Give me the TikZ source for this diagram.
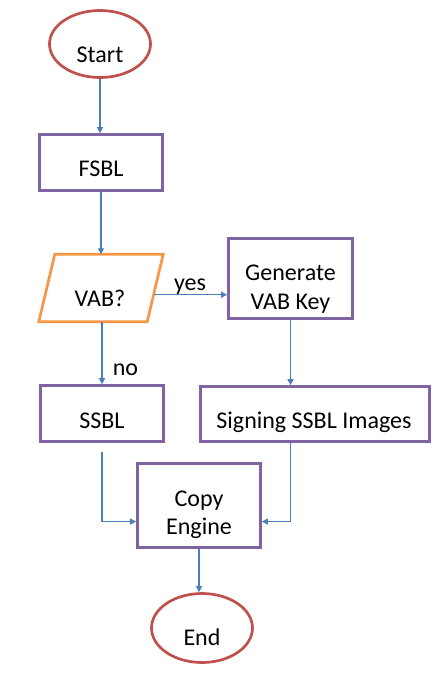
\documentclass[tikz,border=0pt]{standalone}
\usepackage{fontspec}
\setmainfont{Carlito}
\usetikzlibrary{shapes.geometric,arrows.meta,calc}
\definecolor{arrblue}{HTML}{4A7EBB}
\definecolor{boxpurple}{HTML}{8064A2}
\definecolor{termred}{HTML}{C0504D}
\definecolor{decorange}{HTML}{F79646}
\tikzset{
  procbox/.style={draw=boxpurple, line width=2.7pt, rectangle, inner sep=0pt},
  termin/.style={draw=termred, line width=2.7pt, ellipse, inner sep=0pt},
  decisframe/.style={rectangle, inner sep=0pt},
  decisline/.style={draw=decorange, line width=2.7pt, line join=miter},
  txt/.style={font=\fontsize{24}{28}\selectfont, inner sep=0pt, anchor=base, align=center},
  arr/.style={draw=arrblue, line width=1.3pt, -{Triangle[width=6pt,length=6pt]}}
}
\begin{document}
\begin{tikzpicture}[x=1pt,y=-1pt]
\useasboundingbox (0,0) rectangle (439,673);
% shapes
\node[termin, minimum width=101pt, minimum height=67pt] (start) at (100,44) {};
\node[procbox, minimum width=123pt, minimum height=56pt] (fsbl) at (101,162.5) {};
\node[decisframe, minimum width=124pt, minimum height=67pt] (vab) at (101,288) {};
\coordinate (vabTL) at ([xshift=16pt]vab.north west);
\coordinate (vabBR) at ([xshift=-16pt]vab.south east);
\draw[decisline] (vabTL) -- (vab.north east) -- (vabBR) -- (vab.south west) -- cycle;
\node[procbox, minimum width=124pt, minimum height=80pt] (gen) at (290.5,278.5) {};
\node[procbox, minimum width=123pt, minimum height=56pt] (ssbl) at (102,413.5) {};
\node[procbox, minimum width=229pt, minimum height=55pt] (sign) at (315,414) {};
\node[procbox, minimum width=123pt, minimum height=84pt] (copy) at (199,505.5) {};
\node[termin, minimum width=101pt, minimum height=69pt] (end) at (202,628) {};
% texts
\node[txt] (startT) at (100,62) {Start};
\node[txt] (fsblT) at (101,176.5) {FSBL};
\node[txt] (vabT) at (100,306) {VAB?};
\node[txt] (genT1) at (290.5,280) {Generate};
\node[txt] (genT2) at (290.5,309) {VAB Key};
\node[txt] (ssblT) at (102,428) {SSBL};
\node[txt] (signT) at (314,428.5) {Signing SSBL Images};
\node[txt] (copyT1) at (199,506) {Copy};
\node[txt] (copyT2) at (199,534) {Engine};
\node[txt] (endT) at (202,645.5) {End};
\node[txt] (yesL) at (190,290) {yes};
\node[txt] (noL) at (125.5,375) {no};
% connectors
\draw[arr] (start.south) -- (start.south |- fsbl.north);
\draw[arr] (fsbl.south) -- (fsbl.south |- vab.north);
\coordinate (yesS) at ($(vab.north east)!0.6!(vabBR)$);
\draw[arr] (yesS) -- (yesS -| gen.west);
\draw[arr] (ssbl.north |- vab.south) -- (ssbl.north);
\draw[arr] (gen.south) -- (gen.south |- sign.north);
\coordinate (cinL) at ($(copy.north west)!0.685!(copy.south west)$);
\coordinate (cinR) at ($(copy.north east)!0.685!(copy.south east)$);
\draw[arr, shorten <=9pt] (ssbl.south) |- (cinL);
\draw[arr] (sign.south -| gen.south) |- (cinR);
\draw[arr] (copy.south) -- (copy.south |- end.north);
\end{tikzpicture}
\end{document}
